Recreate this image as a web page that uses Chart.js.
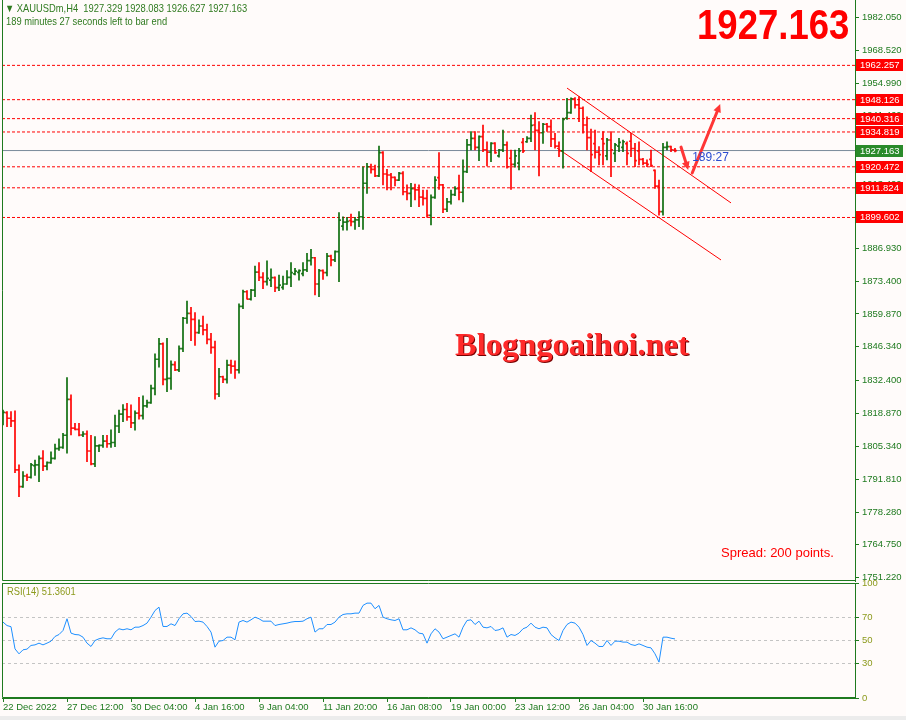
<!DOCTYPE html>
<html>
<head>
<meta charset="utf-8">
<script src="https://cdn.jsdelivr.net/npm/chart.js@4.4.0/dist/chart.umd.min.js"></script>
<style>
  body { margin: 0; background: #fffbfa; width: 906px; height: 720px; overflow: hidden; position: relative; }
  canvas { position: absolute; left: 0; }
  #main { top: 0; }
  #rsi { top: 575px; }
  .txt { position: absolute; white-space: pre; font-family: "Liberation Sans", Arial, sans-serif; transform-origin: 0 0; }
  .narrow { transform: scaleX(0.85); }
  #hdr1 { left: 5px; top: 2px; font-size: 11px; color: #2f7a1f; }
  #hdr2 { left: 6px; top: 15px; font-size: 11px; color: #2f7a1f; }
  #bigPrice { left: 697px; top: 3px; font-size: 43px; line-height: 43px; font-weight: bold; color: #ff0000; }
  #watermark { left: 455px; top: 326px; font-family: "Liberation Serif", serif; font-size: 32.5px; font-weight: bold; color: #ff2a2a; text-shadow: 1px 1px 0 #7a0000; }
  #spread { left: 721px; top: 545px; font-size: 13px; color: #ff0000; }
  #rsiTitle { left: 7px; top: 585px; font-size: 11px; color: #8c9a1c; }
  #bottomStrip { position: absolute; left: 0; top: 716px; width: 906px; height: 4px; background: #ececec; }
</style>
</head>
<body>
<canvas id="main" width="906" height="583"></canvas>
<canvas id="rsi" width="906" height="145"></canvas>
<div class="txt narrow" id="hdr1">▼ XAUUSDm,H4  1927.329 1928.083 1926.627 1927.163</div>
<div class="txt narrow" id="hdr2">189 minutes 27 seconds left to bar end</div>
<div class="txt narrow" id="bigPrice">1927.163</div>
<div class="txt" id="watermark">Blogngoaihoi.net</div>
<div class="txt" id="spread">Spread: 200 points.</div>
<div class="txt narrow" id="rsiTitle">RSI(14) 51.3601</div>
<div id="bottomStrip"></div>
<script>
// XAUUSDm H4 bars, 22 Dec 2022 -> 31 Jan 2023
const opens = [
  1814.8, 1819.2, 1816.9, 1815.8, 1795.6, 1788.7, 1793.1, 1792.6, 1797.4, 1797.7,
  1800.4, 1797.2, 1798.6, 1800.4, 1804.4, 1804.9, 1809.9, 1824.7, 1812.8, 1812.3,
  1810.0, 1810.4, 1803.4, 1798.1, 1805.5, 1805.7, 1807.5, 1806.4, 1806.9, 1813.7,
  1818.6, 1820.5, 1817.5, 1815.0, 1819.0, 1818.0, 1822.0, 1823.3, 1829.2, 1841.2,
  1847.5, 1832.9, 1833.3, 1839.0, 1836.8, 1845.6, 1858.1, 1860.1, 1857.6, 1852.2,
  1854.9, 1853.3, 1849.4, 1846.1, 1826.9, 1834.0, 1832.9, 1838.8, 1838.4, 1836.8,
  1863.0, 1869.0, 1866.0, 1869.7, 1877.1, 1874.9, 1873.2, 1873.8, 1874.8, 1870.7,
  1870.8, 1872.2, 1874.9, 1876.4, 1877.0, 1876.5, 1878.0, 1881.8, 1883.0, 1872.2,
  1877.7, 1876.9, 1883.7, 1882.1, 1885.5, 1896.0, 1897.7, 1898.3, 1897.9, 1898.6,
  1899.9, 1913.7, 1920.5, 1919.4, 1916.7, 1926.3, 1917.5, 1917.1, 1916.1, 1915.0,
  1917.8, 1910.2, 1909.5, 1911.5, 1911.0, 1908.0, 1907.5, 1900.5, 1907.9, 1916.0,
  1913.0, 1903.0, 1906.0, 1909.0, 1911.5, 1910.0, 1918.5, 1929.5, 1932.2, 1928.5,
  1932.9, 1927.5, 1926.5, 1930.1, 1925.0, 1927.4, 1929.5, 1924.0, 1921.5, 1922.0,
  1930.5, 1930.8, 1932.2, 1937.7, 1935.5, 1934.5, 1938.0, 1937.0, 1932.0, 1929.0,
  1927.0, 1940.5, 1942.8, 1948.5, 1946.0, 1944.6, 1937.7, 1932.5, 1930.0, 1926.5,
  1932.0, 1925.0, 1931.5, 1926.0, 1929.0, 1928.5, 1930.0, 1931.0, 1928.0, 1927.0,
  1923.5, 1922.0, 1923.5, 1919.0, 1912.5, 1902.0, 1928.5, 1928.8, 1927.329
];
const highs = [
  1820.3, 1819.6, 1819.6, 1820.0, 1797.7, 1794.9, 1793.9, 1798.3, 1799.7, 1801.4,
  1803.6, 1798.9, 1803.1, 1806.3, 1808.4, 1810.7, 1833.6, 1826.5, 1814.8, 1814.8,
  1811.4, 1811.7, 1809.9, 1809.3, 1805.9, 1809.9, 1809.9, 1812.1, 1818.2, 1820.3,
  1822.5, 1823.0, 1822.4, 1820.0, 1825.5, 1826.1, 1824.4, 1830.6, 1843.4, 1849.8,
  1848.0, 1849.8, 1840.6, 1840.2, 1846.7, 1858.5, 1865.2, 1862.6, 1860.4, 1857.4,
  1859.0, 1855.7, 1851.9, 1848.7, 1837.5, 1834.3, 1840.9, 1840.9, 1840.6, 1864.0,
  1869.7, 1869.5, 1870.0, 1879.6, 1881.0, 1876.9, 1881.7, 1878.4, 1875.2, 1875.9,
  1875.5, 1877.7, 1881.0, 1878.7, 1878.0, 1881.0, 1884.8, 1886.5, 1883.2, 1878.2,
  1878.0, 1884.8, 1884.1, 1885.9, 1901.6, 1899.9, 1899.7, 1901.0, 1899.7, 1902.0,
  1920.5, 1921.9, 1921.6, 1921.2, 1929.0, 1926.7, 1919.4, 1917.8, 1916.3, 1918.2,
  1918.5, 1913.0, 1913.7, 1913.4, 1913.0, 1910.9, 1910.9, 1908.9, 1916.4, 1926.3,
  1913.3, 1907.5, 1910.9, 1912.3, 1917.1, 1923.3, 1931.8, 1935.0, 1935.0, 1933.2,
  1937.7, 1930.8, 1930.4, 1930.4, 1927.7, 1935.6, 1930.8, 1927.4, 1927.4, 1928.1,
  1932.2, 1932.9, 1941.8, 1942.8, 1939.1, 1938.4, 1938.4, 1939.8, 1934.3, 1930.8,
  1940.5, 1948.7, 1948.9, 1949.0, 1949.4, 1945.2, 1941.1, 1936.0, 1935.6, 1928.8,
  1935.0, 1932.2, 1935.0, 1930.1, 1932.2, 1931.5, 1930.8, 1934.3, 1930.1, 1930.8,
  1924.0, 1923.3, 1927.4, 1919.2, 1915.0, 1930.1, 1930.8, 1929.0, 1928.083
];
const lows = [
  1814.1, 1813.4, 1813.4, 1794.5, 1784.6, 1788.4, 1791.2, 1792.2, 1793.4, 1790.8,
  1795.3, 1795.6, 1798.3, 1800.0, 1803.6, 1804.5, 1802.5, 1810.0, 1812.1, 1809.6,
  1809.3, 1799.0, 1797.7, 1797.0, 1803.1, 1804.9, 1804.9, 1804.9, 1805.2, 1811.0,
  1815.5, 1816.0, 1813.0, 1812.0, 1816.5, 1816.5, 1821.4, 1823.0, 1826.5, 1837.9,
  1830.6, 1827.8, 1828.8, 1836.5, 1836.1, 1844.3, 1856.0, 1848.9, 1846.9, 1851.8,
  1851.2, 1847.5, 1843.6, 1824.8, 1825.8, 1831.6, 1831.3, 1835.4, 1833.3, 1835.5,
  1862.0, 1865.9, 1865.5, 1867.0, 1873.6, 1870.3, 1871.7, 1871.1, 1869.0, 1869.5,
  1870.0, 1872.0, 1871.1, 1875.9, 1873.8, 1875.5, 1877.3, 1880.0, 1867.7, 1867.0,
  1874.1, 1875.5, 1879.6, 1881.4, 1873.2, 1894.4, 1894.4, 1896.1, 1894.7, 1895.8,
  1894.7, 1909.5, 1917.8, 1916.4, 1916.4, 1913.0, 1910.9, 1910.9, 1912.6, 1914.8,
  1908.9, 1906.8, 1904.0, 1906.8, 1904.0, 1904.7, 1899.7, 1896.5, 1907.5, 1911.2,
  1901.6, 1902.0, 1905.1, 1908.6, 1906.8, 1906.0, 1918.1, 1927.4, 1927.4, 1923.0,
  1926.7, 1920.8, 1922.6, 1926.0, 1924.4, 1926.7, 1919.9, 1911.2, 1920.3, 1919.2,
  1926.3, 1930.5, 1930.8, 1927.4, 1916.7, 1930.1, 1935.0, 1928.8, 1928.1, 1924.6,
  1919.9, 1940.0, 1942.5, 1944.6, 1939.1, 1934.3, 1927.4, 1918.5, 1924.0, 1921.2,
  1921.2, 1923.3, 1916.4, 1922.6, 1926.7, 1926.7, 1921.2, 1924.6, 1920.5, 1921.2,
  1921.2, 1920.5, 1920.5, 1911.6, 1900.6, 1900.6, 1927.4, 1926.7, 1926.627
];
const closes = [
  1819.3, 1816.9, 1815.8, 1795.6, 1788.7, 1793.1, 1792.6, 1797.7, 1797.7, 1800.4,
  1797.2, 1798.6, 1800.4, 1804.4, 1804.9, 1809.9, 1824.7, 1812.8, 1812.3, 1810.0,
  1810.4, 1803.4, 1798.1, 1805.5, 1805.7, 1807.5, 1806.4, 1806.9, 1813.7, 1818.6,
  1820.5, 1817.5, 1815.0, 1819.0, 1818.0, 1822.0, 1823.3, 1829.2, 1841.2, 1847.5,
  1832.9, 1833.3, 1839.0, 1836.8, 1845.6, 1858.1, 1860.1, 1857.6, 1852.2, 1854.9,
  1853.3, 1849.4, 1846.1, 1826.9, 1834.0, 1832.9, 1838.8, 1838.4, 1836.8, 1863.0,
  1869.0, 1866.0, 1869.7, 1877.1, 1874.9, 1873.2, 1874.5, 1874.8, 1870.7, 1871.7,
  1872.2, 1874.9, 1876.9, 1877.5, 1877.7, 1878.0, 1881.8, 1883.0, 1872.2, 1877.7,
  1876.9, 1883.7, 1882.1, 1885.5, 1898.5, 1897.7, 1898.0, 1897.9, 1898.6, 1899.9,
  1913.7, 1920.5, 1919.4, 1916.7, 1926.3, 1917.5, 1917.1, 1916.1, 1915.0, 1917.8,
  1910.2, 1909.5, 1911.5, 1911.0, 1908.0, 1907.5, 1900.5, 1907.9, 1915.0, 1913.0,
  1903.0, 1906.0, 1909.0, 1911.5, 1910.0, 1918.5, 1929.5, 1932.2, 1928.5, 1932.9,
  1927.5, 1926.5, 1930.1, 1926.3, 1927.4, 1929.5, 1920.5, 1921.5, 1925.0, 1927.0,
  1927.0, 1932.2, 1937.5, 1935.5, 1934.5, 1938.0, 1937.0, 1932.0, 1929.0, 1927.0,
  1940.0, 1942.8, 1948.5, 1946.0, 1944.6, 1937.7, 1932.5, 1925.5, 1926.5, 1925.5,
  1930.0, 1931.5, 1927.5, 1929.5, 1930.5, 1930.8, 1926.0, 1928.0, 1923.0, 1923.5,
  1922.0, 1921.5, 1921.0, 1912.5, 1902.0, 1928.5, 1928.8, 1927.5, 1927.163
];
const rsi = [
  66.0, 63.0, 62.0, 42.7, 38.4, 41.9, 42.5, 45.7, 46.2, 47.7,
  46.2, 47.7, 49.4, 53.5, 55.2, 58.7, 68.9, 56.4, 55.2, 54.9,
  52.9, 47.7, 44.8, 50.0, 51.5, 52.3, 51.5, 51.5, 57.3, 60.2,
  59.3, 60.2, 59.3, 61.6, 61.6, 63.0, 65.1, 70.3, 76.1, 79.0,
  62.2, 62.2, 64.5, 63.0, 68.9, 73.2, 73.8, 70.9, 66.5, 66.8,
  66.0, 62.2, 57.3, 44.2, 49.4, 50.0, 52.9, 52.9, 50.6, 66.0,
  67.4, 66.0, 68.0, 70.3, 68.9, 66.8, 66.8, 66.8, 63.0, 63.9,
  64.5, 65.1, 66.0, 66.5, 66.5, 66.8, 68.9, 70.3, 57.3, 60.2,
  60.2, 63.9, 63.9, 66.0, 70.3, 72.6, 73.2, 73.2, 73.8, 73.8,
  80.5, 82.5, 82.5, 77.6, 80.5, 70.3, 68.9, 68.0, 67.4, 68.9,
  59.3, 59.3, 61.0, 59.3, 56.4, 55.8, 47.7, 55.8, 60.2, 57.3,
  51.5, 52.9, 54.4, 55.8, 52.9, 61.6, 67.4, 68.0, 63.9, 66.8,
  61.6, 61.0, 62.2, 58.7, 59.3, 61.0, 52.9, 55.2, 54.4, 56.4,
  60.2, 61.6, 65.1, 61.6, 60.2, 61.6, 61.0, 55.2, 52.3, 50.0,
  58.7, 63.9, 66.0, 65.1, 61.6, 55.2, 45.7, 50.0, 47.7, 44.8,
  44.8, 50.0, 45.7, 49.4, 49.4, 48.6, 48.6, 46.5, 45.7, 47.1,
  45.7, 44.2, 43.6, 38.4, 31.2, 52.9, 52.9, 52.0, 51.36
];

// time axis: one label every 16 bars
const timeTicks = [0, 16, 32, 48, 64, 80, 96, 112, 128, 144, 160];
const timeLabels = ['22 Dec 2022', '27 Dec 12:00', '30 Dec 04:00', '4 Jan 16:00', '9 Jan 04:00',
  '11 Jan 20:00', '16 Jan 08:00', '19 Jan 00:00', '23 Jan 12:00', '26 Jan 04:00', '30 Jan 16:00'];

const priceTicks = [1982.050, 1968.520, 1954.990, 1941.460, 1927.930, 1913.400, 1899.870,
  1886.930, 1873.400, 1859.870, 1846.340, 1832.400, 1818.870, 1805.340, 1791.810,
  1778.280, 1764.750, 1751.220];
const rsiTicks = [0, 30, 50, 70, 100];
const rsiLevels = [70, 50, 30];

// horizontal levels drawn on the chart
const levels = [1962.257, 1948.126, 1940.316, 1934.819, 1920.472, 1911.824, 1899.602];
const lastPrice = 1927.163;

// falling channel: [bar, price] pairs
const channelUpper = [[141, 1952.9], [182, 1905.6]];
const channelLower = [[138.5, 1928.2], [179.5, 1882.1]];
// hand drawn arrows: from -> to
const arrows = [
  [[169.5, 1928.6], [171.3, 1919.2]],
  [[172.3, 1917.9], [179.3, 1946.3]]
];

const GREEN = '#1f7a1f';
const UP = '#0b6b0b';
const DOWN = '#ff0000';
const X_MIN = -0.25, X_MAX = 213;
const TICK = 0.21;
const axisFont = { family: '"Liberation Sans Narrow", "Liberation Sans", Arial', size: 9.5 };

const idx = closes.map((_, i) => i);
const barColors = idx.map(i => closes[i] >= opens[i] ? UP : DOWN);

const flatLine = (v, color, dash) => ({
  type: 'line',
  data: [{ x: X_MIN, y: v }, { x: X_MAX, y: v }],
  borderColor: color, borderWidth: 1, borderDash: dash,
  pointRadius: 0, order: 2
});

// keep Chart.js from reserving room for the first/last tick label
const noLabelPadding = axis => {
  axis.paddingTop = 0; axis.paddingBottom = 0;
  axis.paddingLeft = 0; axis.paddingRight = 0;
};

// green frame around a panel
const framePlugin = {
  id: 'frame',
  afterDraw(chart) {
    const { ctx, chartArea: a } = chart;
    ctx.save();
    ctx.strokeStyle = GREEN;
    ctx.lineWidth = 1;
    ctx.beginPath();
    ctx.moveTo(a.left + 0.5, a.top);
    ctx.lineTo(a.left + 0.5, a.bottom - 0.5);
    ctx.lineTo(a.right, a.bottom - 0.5);
    if (chart.canvas.id === 'rsi') {
      ctx.moveTo(a.left, a.top + 0.5);
      ctx.lineTo(a.right, a.top + 0.5);
    }
    ctx.stroke();
    ctx.restore();
  }
};

// arrows, countdown and price boxes on the price scale
const marksPlugin = {
  id: 'marks',
  afterDraw(chart) {
    const { ctx, chartArea: a } = chart;
    const xs = chart.scales.x, ys = chart.scales.y;

    ctx.save();
    ctx.strokeStyle = '#ff3535';
    ctx.fillStyle = '#ff3535';
    ctx.lineWidth = 3;
    ctx.lineCap = 'round';
    arrows.forEach(([p, q]) => {
      const x1 = xs.getPixelForValue(p[0]), y1 = ys.getPixelForValue(p[1]);
      const x2 = xs.getPixelForValue(q[0]), y2 = ys.getPixelForValue(q[1]);
      const ang = Math.atan2(y2 - y1, x2 - x1);
      ctx.beginPath();
      ctx.moveTo(x1, y1);
      ctx.lineTo(x2 - 5 * Math.cos(ang), y2 - 5 * Math.sin(ang));
      ctx.stroke();
      ctx.beginPath();
      ctx.moveTo(x2, y2);
      ctx.lineTo(x2 - 9 * Math.cos(ang - 0.45), y2 - 9 * Math.sin(ang - 0.45));
      ctx.lineTo(x2 - 9 * Math.cos(ang + 0.45), y2 - 9 * Math.sin(ang + 0.45));
      ctx.closePath();
      ctx.fill();
    });

    ctx.fillStyle = '#2a4bd0';
    ctx.font = '12px "Liberation Sans", Arial';
    ctx.textBaseline = 'middle';
    ctx.fillText('189:27', xs.getPixelForValue(closes.length + 3.3), ys.getPixelForValue(lastPrice) + 7);

    const box = (v, color) => {
      const y = Math.round(ys.getPixelForValue(v));
      ctx.fillStyle = color;
      ctx.fillRect(a.right + 1, y - 6, 47, 12);
      ctx.fillStyle = '#ffffff';
      ctx.font = `${axisFont.size}px ${axisFont.family}`;
      ctx.textAlign = 'left';
      ctx.fillText(v.toFixed(3), a.right + 5, y);
    };
    levels.forEach(v => box(v, '#ff0000'));
    box(lastPrice, '#2a8a2a');
    ctx.restore();
  }
};

new Chart(document.getElementById('main'), {
  data: {
    datasets: [
      { type: 'bar', stack: 'o', data: idx.map(i => ({ x: i, y: [opens[i] - TICK, opens[i] + TICK] })),
        backgroundColor: barColors, barThickness: 1, order: 0 },
      { type: 'bar', stack: 'w', data: idx.map(i => ({ x: i, y: [lows[i], highs[i]] })),
        backgroundColor: barColors, barThickness: 1, order: 0 },
      { type: 'bar', stack: 'c', data: idx.map(i => ({ x: i, y: [closes[i] - TICK, closes[i] + TICK] })),
        backgroundColor: barColors, barThickness: 1, order: 0 },
      ...levels.map(v => flatLine(v, '#ff0000', [3, 2])),
      flatLine(lastPrice, '#7a8a9a', []),
      { type: 'line', data: channelUpper.map(([x, y]) => ({ x, y })), borderColor: '#ff0000',
        borderWidth: 1, pointRadius: 0, order: 1 },
      { type: 'line', data: channelLower.map(([x, y]) => ({ x, y })), borderColor: '#ff0000',
        borderWidth: 1, pointRadius: 0, order: 1 }
    ]
  },
  options: {
    responsive: false,
    animation: false,
    devicePixelRatio: 1,
    layout: { padding: { left: 2, bottom: 2, top: 0, right: 0 } },
    plugins: { legend: { display: false }, tooltip: { enabled: false } },
    scales: {
      x: { type: 'linear', min: X_MIN, max: X_MAX, offset: false, display: false },
      y: {
        position: 'right',
        min: 1749.86, max: 1989.18,
        afterFit(axis) { axis.width = 51; noLabelPadding(axis); },
        afterBuildTicks(axis) { axis.ticks = priceTicks.map(v => ({ value: v })); },
        ticks: { autoSkip: false, color: GREEN, font: axisFont, padding: 3,
          callback: v => v.toFixed(3) },
        grid: { drawOnChartArea: false, color: GREEN, tickLength: 4 },
        border: { color: GREEN }
      }
    }
  },
  plugins: [framePlugin, marksPlugin]
});

new Chart(document.getElementById('rsi'), {
  data: {
    datasets: [
      { type: 'line', data: rsi.map((v, i) => ({ x: i, y: v })), borderColor: '#1e8fff',
        borderWidth: 1, pointRadius: 0, tension: 0, order: 0 },
      ...rsiLevels.map(v => flatLine(v, '#c4c4c4', [3, 3]))
    ]
  },
  options: {
    responsive: false,
    animation: false,
    devicePixelRatio: 1,
    layout: { padding: { left: 2, top: 8, right: 0, bottom: 0 } },
    plugins: { legend: { display: false }, tooltip: { enabled: false } },
    scales: {
      x: {
        type: 'linear', min: X_MIN, max: X_MAX, offset: false,
        afterFit(axis) { axis.height = 22; noLabelPadding(axis); },
        afterBuildTicks(axis) { axis.ticks = timeTicks.map(v => ({ value: v })); },
        ticks: { autoSkip: false, maxRotation: 0, align: 'start', color: GREEN, font: axisFont, padding: 0,
          callback: (v, i) => timeLabels[i] },
        grid: { drawOnChartArea: false, color: GREEN, tickLength: 4 },
        border: { color: GREEN }
      },
      y: {
        position: 'right', min: 0, max: 100,
        afterFit(axis) { axis.width = 51; noLabelPadding(axis); },
        afterBuildTicks(axis) { axis.ticks = rsiTicks.map(v => ({ value: v })); },
        ticks: { autoSkip: false, color: '#8c9a1c', font: axisFont, padding: 3 },
        grid: { drawOnChartArea: false, color: GREEN, tickLength: 4 },
        border: { color: GREEN }
      }
    }
  },
  plugins: [framePlugin]
});
</script>
</body>
</html>
